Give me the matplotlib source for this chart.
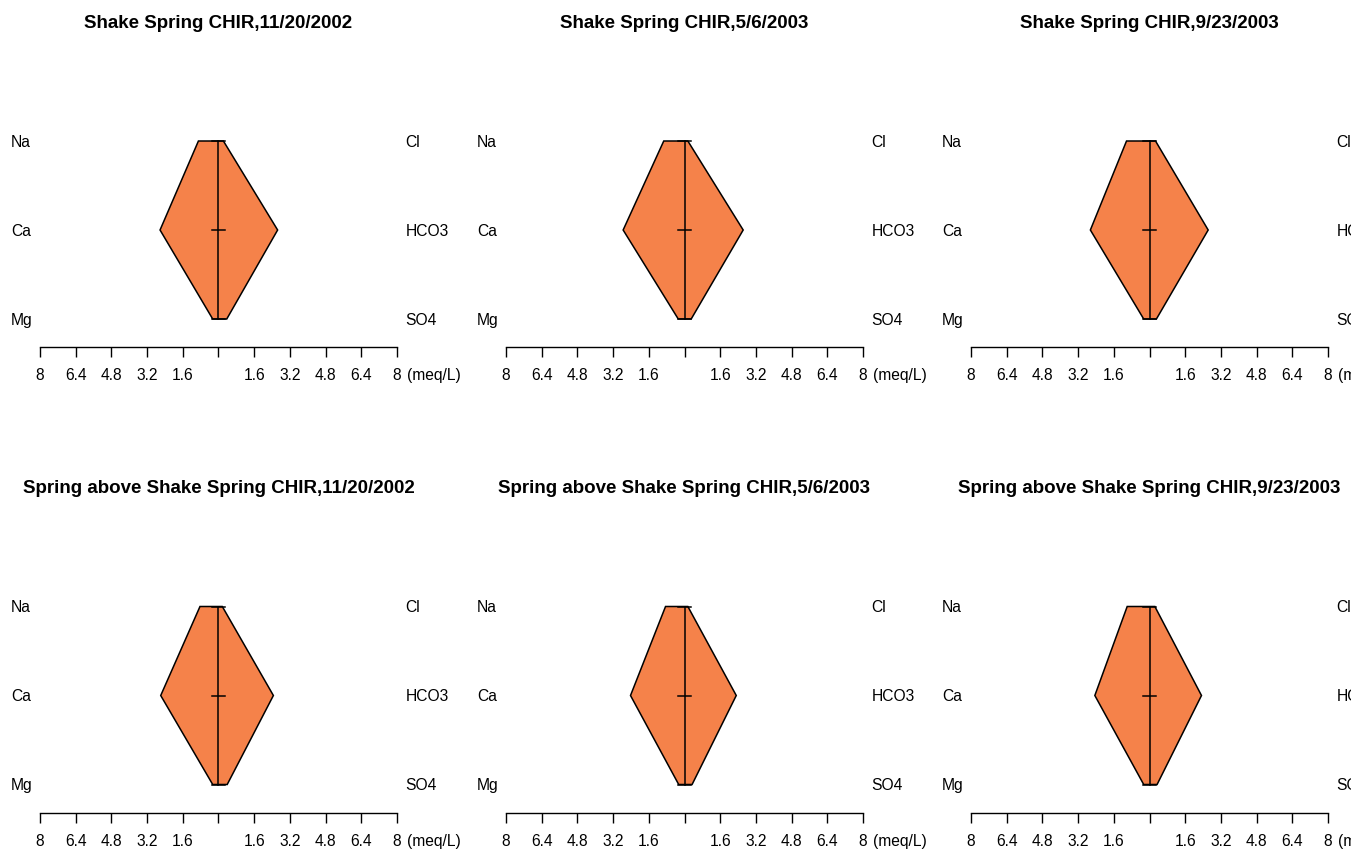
import numpy as np
import matplotlib
matplotlib.use("Agg")
import matplotlib.pyplot as plt
from matplotlib.patches import Polygon, Rectangle

plt.rcParams['font.family'] = ['Liberation Sans', 'DejaVu Sans']

# Stiff diagram data (meq/L), one value per panel
titles = ['Shake Spring CHIR,11/20/2002', 'Shake Spring CHIR,5/6/2003',
          'Shake Spring CHIR,9/23/2003',
          'Spring above Shake Spring CHIR,11/20/2002',
          'Spring above Shake Spring CHIR,5/6/2003',
          'Spring above Shake Spring CHIR,9/23/2003']
na = [0.90, 0.93, 1.03, 0.83, 0.85, 1.00]
ca = [2.62, 2.75, 2.65, 2.59, 2.42, 2.45]
mg = [0.26, 0.28, 0.26, 0.26, 0.26, 0.26]
cl = [0.22, 0.15, 0.27, 0.17, 0.15, 0.24]
hco3 = [2.65, 2.63, 2.63, 2.46, 2.32, 2.33]
so4 = [0.37, 0.30, 0.31, 0.39, 0.34, 0.34]

cations = ['Na', 'Ca', 'Mg']
anions = ['Cl', 'HCO3', 'SO4']
tick_pos = np.round(np.arange(-8, 8.01, 1.6), 1)
tick_lab = ['8', '6.4', '4.8', '3.2', '1.6', '', '1.6', '3.2', '4.8', '6.4', '8']

W, H = 1364, 850
fig = plt.figure(figsize=(W / 100, H / 100), dpi=100)

fs = 11.25
col_off = [0, 466, 931]
row_off = [0, 465.5]

for i in range(6):
    r, c = divmod(i, 3)
    x0 = 40 + col_off[c]
    ybot = 347 + row_off[r]
    ax = fig.add_axes([x0 / W, (H - ybot) / H, 357 / W, 295 / H])
    ax.set_xlim(-8, 8)
    ax.set_ylim(0.6854, 4)
    for s in ['top', 'left', 'right']:
        ax.spines[s].set_visible(False)
    ax.spines['bottom'].set_linewidth(1.0)
    ax.set_yticks([])
    ax.set_xticks(tick_pos)
    ax.set_xticklabels(tick_lab)
    ax.tick_params(axis='x', direction='out', length=7.5, width=1.0, pad=7.9,
                   labelsize=fs)
    ax.annotate('(meq/L)', xy=(8, 0), xycoords=ax.get_xaxis_transform(),
                xytext=(7.5, -15.4), textcoords='offset points',
                ha='left', va='top', fontsize=fs, annotation_clip=False)

    verts = [(-na[i], 3), (-ca[i], 2), (-mg[i], 1),
             (so4[i], 1), (hco3[i], 2), (cl[i], 3)]
    ax.add_patch(Polygon(verts, closed=True, facecolor='#F5824A',
                         edgecolor='black', linewidth=1.1, clip_on=False))
    ax.plot([0, 0], [1, 3], color='black', lw=1.1, clip_on=False)
    for yy in [1, 2, 3]:
        ax.plot([-0.31, 0.31], [yy, yy], color='black', lw=1.1, clip_on=False)

    for k in range(3):
        ax.text(-9.3, 3 - k - 0.012, cations[k], ha='left', va='center',
                fontsize=fs, clip_on=False)
        ax.text(8.38, 3 - k - 0.012, anions[k], ha='left', va='center',
                fontsize=fs, clip_on=False)

    ax.text(0, 4.325, titles[i], ha='center', va='center', fontsize=13.5,
            fontweight='bold', clip_on=False)

# right strip cut off in the original
fig.patches.append(Rectangle((1351 / W, 0), 13 / W, 1, transform=fig.transFigure,
                             facecolor='white', edgecolor='none', zorder=10))

fig.savefig('out.png', dpi=100, facecolor='white')
